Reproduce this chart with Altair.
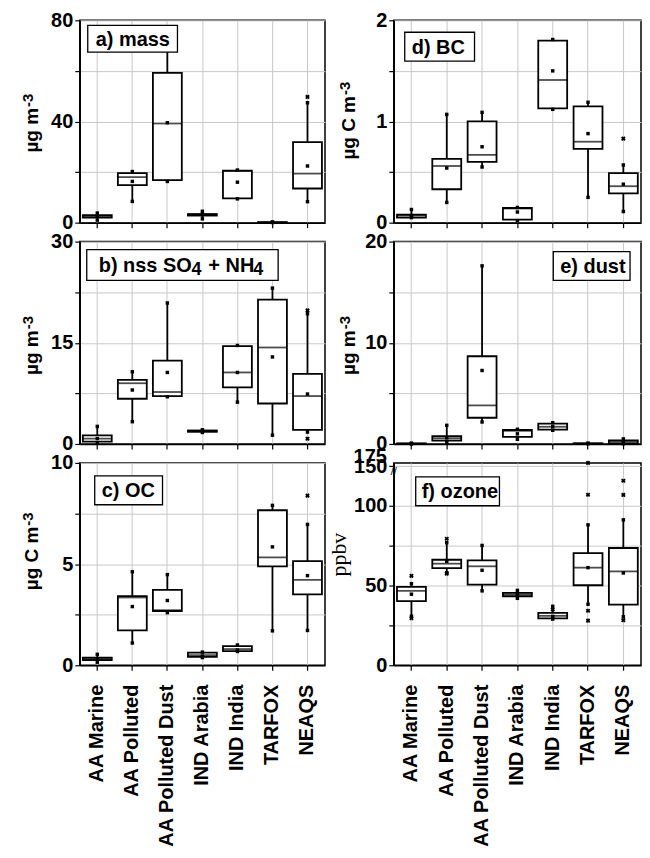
import altair as alt
import pandas as pd

cats = ["AA Marine", "AA Polluted", "AA Polluted Dust", "IND Arabia", "IND India", "TARFOX", "NEAQS"]

# a) mass
mass_lo   = [1.0, 8.4, 16.3, 1.5, 9.4, 0.05, 8.3]
mass_q1   = [2.0, 14.8, 16.8, 2.8, 9.6, 0.1, 13.5]
mass_med  = [2.5, 18.0, 39.2, 3.1, 20.4, 0.15, 19.4]
mass_q3   = [3.0, 19.6, 59.2, 3.4, 20.6, 0.2, 31.8]
mass_hi   = [3.8, 20.2, 68.0, 4.5, 20.8, 0.25, 47.4]
mass_mean = [2.6, 16.3, 39.5, 3.2, 16.0, 0.15, 22.4]
mass_out_cat = ["NEAQS"]
mass_out_val = [49.7]

# b) nss SO4 + NH4
so4_lo   = [0.1, 3.3, 7.0, 1.7, 6.2, 1.3, 1.76]
so4_q1   = [0.34, 6.7, 7.1, 1.8, 8.4, 6.0, 2.1]
so4_med  = [0.8, 9.0, 7.7, 1.9, 10.6, 14.3, 7.1]
so4_q3   = [1.28, 9.5, 12.35, 2.0, 14.5, 21.4, 10.4]
so4_hi   = [2.6, 10.7, 20.9, 2.1, 14.6, 23.1, 19.3]
so4_mean = [0.8, 8.0, 10.6, 1.9, 10.6, 12.9, 7.4]
so4_out_cat = ["NEAQS", "NEAQS"]
so4_out_val = [19.8, 0.78]

# c) OC
oc_lo   = [0.15, 1.1, 2.6, 0.38, 0.68, 1.7, 1.72]
oc_q1   = [0.25, 1.72, 2.68, 0.41, 0.70, 4.89, 3.5]
oc_med  = [0.31, 3.35, 2.72, 0.5, 0.8, 5.33, 4.22]
oc_q3   = [0.38, 3.42, 3.73, 0.62, 0.95, 7.66, 5.15]
oc_hi   = [0.54, 4.62, 4.48, 0.65, 1.0, 7.9, 6.96]
oc_mean = [0.31, 2.9, 3.2, 0.45, 0.75, 5.85, 4.43]
oc_out_cat = ["NEAQS"]
oc_out_val = [8.38]

# d) BC
bc_lo   = [0.05, 0.2, 0.55, 0.02, 1.12, 0.25, 0.11]
bc_q1   = [0.05, 0.33, 0.6, 0.03, 1.13, 0.73, 0.29]
bc_med  = [0.07, 0.56, 0.67, 0.14, 1.41, 0.80, 0.36]
bc_q3   = [0.08, 0.63, 1.0, 0.145, 1.80, 1.15, 0.49]
bc_hi   = [0.13, 1.07, 1.09, 0.15, 1.81, 1.19, 0.57]
bc_mean = [0.07, 0.54, 0.75, 0.105, 1.50, 0.88, 0.38]
bc_out_cat = ["NEAQS"]
bc_out_val = [0.83]

# e) dust
dust_lo   = [0.01, 0.13, 2.17, 0.46, 1.35, 0.03, 0.02]
dust_q1   = [0.02, 0.33, 2.59, 0.69, 1.41, 0.04, 0.03]
dust_med  = [0.03, 0.55, 3.81, 1.3, 1.7, 0.05, 0.2]
dust_q3   = [0.05, 0.76, 8.67, 1.38, 2.0, 0.06, 0.36]
dust_hi   = [0.08, 1.84, 17.6, 1.45, 2.1, 0.07, 0.5]
dust_mean = [0.03, 0.6, 7.26, 1.0, 1.7, 0.05, 0.2]
dust_out_cat = []
dust_out_val = []

# f) ozone
o3_lo   = [30.8, 58.1, 46.7, 42.0, 29.0, 38.3, 30.4]
o3_q1   = [40.2, 61.0, 50.6, 43.3, 29.4, 50.2, 38.1]
o3_med  = [46.7, 63.75, 62.1, 44.4, 31.0, 61.25, 58.9]
o3_q3   = [49.2, 66.2, 65.8, 45.4, 32.9, 70.4, 73.6]
o3_hi   = [51.2, 76.9, 75.2, 47.0, 37.0, 88.1, 91.25]
o3_mean = [44.6, 65.2, 59.6, 44.3, 30.7, 61.25, 57.9]
o3_out_cat = ["AA Marine", "AA Marine", "AA Polluted", "AA Polluted", "IND India",
              "TARFOX", "TARFOX", "TARFOX", "TARFOX", "NEAQS", "NEAQS", "NEAQS"]
o3_out_val = [56.1, 29.5, 79.4, 57.5, 35.0, 107.0, 127.0, 34.2, 28.0, 106.9, 115.8, 28.3]

FONT = "Liberation Sans"
BOXW = 29
LBL = 20


def one(t):
    return alt.Chart(pd.DataFrame({"t": [t]}))


def ytitle(main, sup, jy, xm, xs, serif=False):
    if serif:
        return [one(main).mark_text(font="Liberation Serif", fontSize=22, color="black", angle=270,
                                    align="center", baseline="alphabetic").encode(
            x=alt.value(xm), y=alt.value(jy), text="t:N")]
    m = one(main).mark_text(font=FONT, fontWeight="bold", fontSize=19, color="black", angle=270,
                            align="right", baseline="alphabetic").encode(
        x=alt.value(xm), y=alt.value(jy), text="t:N")
    s = one(sup).mark_text(font=FONT, fontWeight="bold", fontSize=15, color="black", angle=270,
                           align="left", baseline="alphabetic").encode(
        x=alt.value(xs), y=alt.value(jy - 1), text="t:N")
    return [m, s]


def label_box(pieces, box):
    # pieces: list of (text, xoffset_from_box_left, dy, size)
    x0, x1, y0, y1 = box
    out = [one("").mark_rect(fill="white", stroke="black", strokeWidth=1.3).encode(
        x=alt.value(x0), x2=alt.value(x1), y=alt.value(y0), y2=alt.value(y1))]
    for t, dx, dy, sz in pieces:
        out.append(one(t).mark_text(font=FONT, fontWeight="bold", fontSize=sz, color="black",
                                    baseline="middle", align="left", dy=dy).encode(
            x=alt.value(x0 + dx), y=alt.value((y0 + y1) / 2 + 1), text="t:N"))
    return out


def panel(lo, q1, med, q3, hi, mean, out_cat, out_val, domain, yvals, labexpr,
          show_x, width, deco, height=203, extra=None):
    df = pd.DataFrame({"cat": cats, "lo": lo, "q1": q1, "med": med, "q3": q3, "hi": hi, "mean": mean})
    odf = pd.DataFrame({"cat": out_cat, "v": out_val})
    yaxis = alt.Axis(values=yvals, labelExpr=labexpr, format=".0f", title=None, tickSize=5,
                     labelPadding=2, grid=True)
    yscale = alt.Scale(domain=domain, nice=False, zero=True)

    def Y(f):
        return alt.Y(f, scale=yscale, axis=yaxis)

    X = alt.X("cat:N", sort=cats,
              scale=alt.Scale(domain=cats, paddingInner=0, paddingOuter=0),
              axis=alt.Axis(title=None, labels=show_x, labelAngle=-90, grid=True, bandPosition=0.5,
                            tickSize=5, labelPadding=14, labelFontSize=20))
    base = alt.Chart(df)
    whisk = base.mark_rule(color="black", strokeWidth=1.8).encode(x=X, y=Y("lo:Q"), y2="hi:Q")
    boxes = base.mark_bar(fill="white", stroke="black", strokeWidth=1.8, size=BOXW).encode(
        x=X, y=Y("q1:Q"), y2="q3:Q")
    medl = base.mark_tick(color="black", thickness=1.8, size=BOXW).encode(x=X, y=Y("med:Q"))
    ends = base.transform_fold(["lo", "hi"], as_=["k", "v"]).mark_point(
        shape="square", filled=True, color="black", size=12, opacity=1).encode(x=X, y=Y("v:Q"))
    means = base.mark_point(shape="square", filled=True, color="black", size=12, opacity=1).encode(
        x=X, y=Y("mean:Q"))
    layers = [whisk, boxes, medl, ends, means]
    if len(out_cat):
        outs = alt.Chart(odf).mark_point(shape="cross", angle=45, filled=True, color="black",
                                         size=22, opacity=1).encode(x=X, y=Y("v:Q"))
        layers.append(outs)
    if extra is not None:
        layers.extend(extra(X, Y))
    layers += deco
    return alt.layer(*layers).properties(width=width, height=height)


def ozone_extra(X, Y):
    d = pd.DataFrame({"v": [127.0], "t": ["175"]})
    t175 = alt.Chart(d).mark_text(font=FONT, fontWeight="bold", fontSize=20, color="black",
                                  align="right", baseline="middle", dy=-6).encode(
        x=alt.value(-7), y=Y("v:Q"), text="t:N")
    b = pd.DataFrame({"v": [121.0], "t": ["//"]})
    brk = alt.Chart(b).mark_text(font=FONT, fontSize=11, color="black", align="center",
                                 baseline="middle").encode(x=alt.value(0), y=Y("v:Q"), text="t:N")
    return [t175, brk]


WL, WR = 246, 248
XL_M, XL_S = -42, -47
XR_M, XR_S = -39, -44

pa = panel(mass_lo, mass_q1, mass_med, mass_q3, mass_hi, mass_mean, mass_out_cat, mass_out_val,
           [0, 80], [0, 20, 40, 60, 80], "datum.value % 40 == 0 ? datum.label : ''", False, WL,
           ytitle("µg m", "-3", 88, XL_M, XL_S) + label_box([("a) mass", 8, 0, LBL)], (8, 98, 5, 32)))
pb = panel(so4_lo, so4_q1, so4_med, so4_q3, so4_hi, so4_mean, so4_out_cat, so4_out_val,
           [0, 30], [0, 7.5, 15, 22.5, 30], "datum.value % 15 == 0 ? datum.label : ''", False, WL,
           ytitle("µg m", "-3", 89, XL_M, XL_S) +
           label_box([("b) nss SO", 12, 0, LBL), ("4", 105, 4, 18), ("+ NH", 122, 0, LBL), ("4", 167, 4, 18)],
                     (7, 199, 8, 39)))
pc = panel(oc_lo, oc_q1, oc_med, oc_q3, oc_hi, oc_mean, oc_out_cat, oc_out_val,
           [0, 10], [0, 2.5, 5, 7.5, 10], "datum.value % 5 == 0 ? datum.label : ''", True, WL,
           ytitle("µg C m", "-3", 64, XL_M, XL_S) + label_box([("c) OC", 7, 0, LBL)], (15, 83, 13, 42)))
pd_ = panel(bc_lo, bc_q1, bc_med, bc_q3, bc_hi, bc_mean, bc_out_cat, bc_out_val,
            [0, 2], [0, 0.5, 1, 1.5, 2], "datum.value % 1 == 0 ? datum.label : ''", False, WR,
            ytitle("µg C m", "-3", 76, XR_M, XR_S) + label_box([("d) BC", 7, 0, LBL)], (11, 81, 12, 41)))
pe = panel(dust_lo, dust_q1, dust_med, dust_q3, dust_hi, dust_mean, dust_out_cat, dust_out_val,
           [0, 20], [0, 5, 10, 15, 20], "datum.value % 10 == 0 ? datum.label : ''", False, WR,
           ytitle("µg m", "-3", 89, XR_M, XR_S) + label_box([("e) dust", 7, 0, LBL)], (160, 237, 10, 39)))
pf = panel(o3_lo, o3_q1, o3_med, o3_q3, o3_hi, o3_mean, o3_out_cat, o3_out_val,
           [0, 127], [0, 25, 50, 75, 100, 125],
           "datum.value == 125 ? '150' : (datum.value % 50 == 0 ? datum.label : '')", True, WR,
           ytitle("ppbv", "", 92, -48, 0, serif=True) + label_box([("f) ozone", 6, 0, LBL)], (22, 106, 14, 43)),
           extra=ozone_extra)

chart = alt.concat(pa, pd_, pb, pe, pc, pf, columns=2, spacing={"row": 19, "column": 69},
                   bounds="flush").properties(
    padding={"left": 12, "top": 0, "right": 0, "bottom": 0}
).configure_view(stroke="black", strokeWidth=1.5).configure_axis(
    gridColor="#c8c8c8", gridWidth=1, domainColor="black", domainWidth=1.5,
    tickColor="black", tickWidth=1.2,
    labelFont=FONT, labelFontWeight="bold", labelFontSize=20, labelColor="black",
    titleColor="black", labelOverlap=False
)

chart.save("out.html", embed_options={"renderer": "svg", "actions": False})
